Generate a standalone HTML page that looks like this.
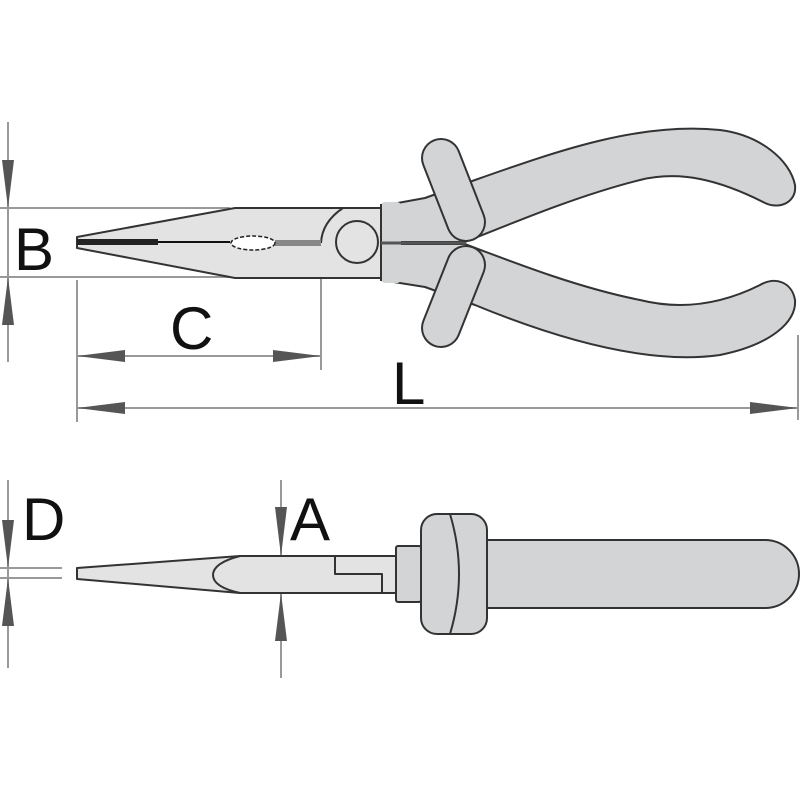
<!DOCTYPE html>
<html><head><style>html,body{margin:0;padding:0;background:#fff}svg{display:block}text{font-family:"Liberation Sans",sans-serif;fill:#111}</style></head>
<body>
<svg width="800" height="800" viewBox="0 0 800 800" xmlns="http://www.w3.org/2000/svg">
<defs>
<marker id="a" viewBox="0 0 48 12" refX="48" refY="6" markerWidth="48" markerHeight="12" markerUnits="userSpaceOnUse" orient="auto"><path d="M0,0 L48,6 L0,12 Z" fill="#555"/></marker>
</defs>
<g stroke="#999" stroke-width="2" fill="none">
<!-- B -->
<line x1="8" y1="122" x2="8" y2="362"/>
<line x1="0" y1="208" x2="230" y2="208"/>
<line x1="0" y1="277" x2="230" y2="277"/>
<!-- C / L ext -->
<line x1="77" y1="280" x2="77" y2="422"/>
<line x1="321" y1="255" x2="321" y2="370"/>
<line x1="798" y1="335" x2="798" y2="420"/>
<line x1="77" y1="356" x2="321" y2="356"/>
<line x1="77" y1="408" x2="798" y2="408"/>
<!-- D -->
<line x1="8" y1="480" x2="8" y2="668"/>
<line x1="0" y1="568" x2="62" y2="568"/>
<line x1="0" y1="578" x2="62" y2="578"/>
<!-- A -->
<line x1="281" y1="480" x2="281" y2="678"/>
</g>
<g fill="#555">
<path d="M2,160 L14,160 L8,208 Z"/><path d="M2,325 L14,325 L8,277 Z"/>
<path d="M125,350 L125,362 L77,356 Z"/><path d="M273,350 L273,362 L321,356 Z"/>
<path d="M125,402 L125,414 L77,408 Z"/><path d="M750,402 L750,414 L798,408 Z"/>
<path d="M2,520 L14,520 L8,568 Z"/><path d="M2,626 L14,626 L8,578 Z"/>
<path d="M275,507 L287,507 L281,556 Z"/><path d="M275,641 L287,641 L281,593 Z"/>
</g>
<text x="14" y="270" font-size="60">B</text>
<text x="170" y="349" font-size="60">C</text>
<text x="392" y="404" font-size="60">L</text>
<text x="22" y="540" font-size="60">D</text>
<text x="290" y="540" font-size="60">A</text>

<!-- top view plier -->
<g stroke="#333" stroke-width="2" fill="#d3d4d6" stroke-linejoin="round">
<path d="M381,206 L425,198 L475,180 C560,150 640,122 720,130 C760,135 790,160 795,185 C797,202 780,210 765,203 C720,180 680,170 640,180 C580,195 520,220 465,242 L381,242 Z"/>
<path d="M381,280 L425,287 L475,305 C560,340 650,365 720,355 C770,345 797,322 795,300 C792,282 775,276 760,285 C720,305 680,310 640,300 C580,288 520,265 465,244 L381,244 Z"/>
<path d="M77,237 L235,208 L383,208 L383,278 L235,278 L77,248 Z" fill="#e3e3e3"/>
<rect x="381" y="202" width="20" height="81" rx="4" stroke="none"/>
<line x1="381" y1="204" x2="381" y2="281"/>
<line x1="381" y1="243" x2="466" y2="243" stroke="#555" stroke-width="3"/>
<line x1="441" y1="158" x2="466" y2="222" stroke-width="40" stroke-linecap="round" stroke="#333"/>
<line x1="441" y1="158" x2="466" y2="222" stroke-width="36" stroke-linecap="round" stroke="#d3d4d6"/>
<line x1="466" y1="265" x2="441" y2="328" stroke-width="40" stroke-linecap="round" stroke="#333"/>
<line x1="466" y1="265" x2="441" y2="328" stroke-width="36" stroke-linecap="round" stroke="#d3d4d6"/>
<path d="M343,208 Q322,222 321,243" fill="none"/>
<circle cx="357" cy="242" r="21" fill="#e3e3e3"/>
</g>
<rect x="77" y="239" width="81" height="6" fill="#222"/>
<line x1="158" y1="242" x2="230" y2="242" stroke="#111" stroke-width="2"/>
<rect x="275" y="240" width="46" height="6" fill="#888"/>
<ellipse cx="253" cy="243" rx="22" ry="7" fill="#fff" stroke="#222" stroke-width="1.5" stroke-dasharray="4 2"/>

<!-- bottom view -->
<g stroke="#333" stroke-width="2" fill="#d3d4d6" stroke-linejoin="round">
<path d="M486,540 L765,540 A34,34 0 0 1 765,608 L486,608 Z"/>
<rect x="421" y="514" width="66" height="120" rx="16"/>
<path d="M450,514 Q468,574 450,634" fill="none"/>
<rect x="396" y="546" width="25" height="56" rx="2"/>
<path d="M77,568 L240,556 L396,556 L396,593 L240,593 L77,579 Z" fill="#e3e3e3"/>
<path d="M240,556 Q213,563 213,575 Q213,587 240,593" fill="none"/>
<path d="M335,556 L335,574 L382,574 L382,593" fill="none"/>
</g>
</svg>
</body></html>
